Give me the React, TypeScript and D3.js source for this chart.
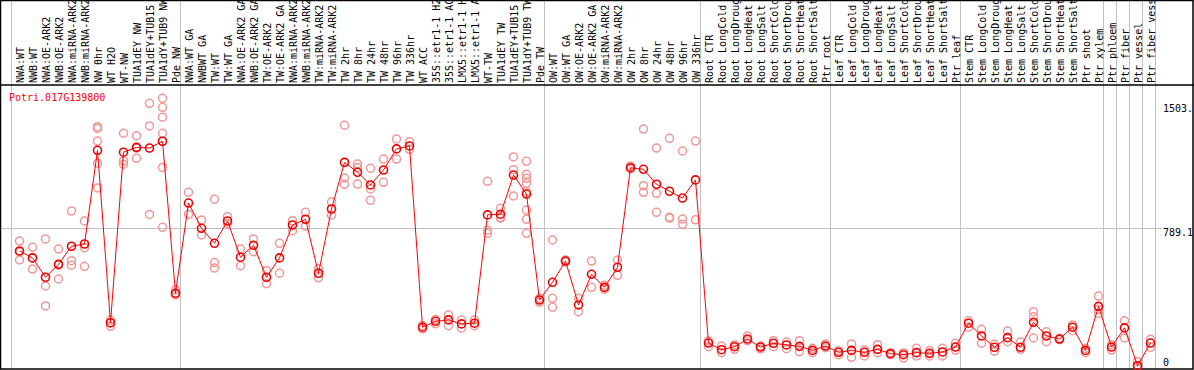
import React from "react";
import * as d3 from "d3";

const geneName = "Potri.017G139800";

const categories = [
  "NWA:WT", "NWB:WT", "NWA:OE-ARK2", "NWB:OE-ARK2", "NWA:miRNA-ARK2", "NWB:miRNA-ARK2",
  "NW 0hr", "WT H2O", "WT-NW", "TUA1dEY NW", "TUA1dEY+TUB15", "TUA1dY+TUB9 NW", "Pde NW",
  "NWA:WT GA", "NWBWT GA", "TW:WT", "TW:WT GA", "NWA:OE-ARK2 GA", "NWB:OE-ARK2 GA",
  "TW:OE-ARK2", "TW:OE-ARK2 GA", "NWA:miRNA-ARK2", "NWB:miRNA-ARK2", "TW:miRNA-ARK2",
  "TW:miRNA-ARK2", "TW 2hr", "TW 8hr", "TW 24hr", "TW 48hr", "TW 96hr", "TW 336hr",
  "WT ACC", "35S::etr1-1 H2", "35S::etr1-1 AC", "LMX5::etr1-1 H", "LMX5::etr1-1 A",
  "WT-TW", "TUA1dEY TW", "TUA1dEY+TUB15", "TUA1dY+TUB9 TW", "Pde TW",
  "OW:WT", "OW:WT GA", "OW:OE-ARK2", "OW:OE-ARK2 GA", "OW:miRNA-ARK2", "OW:miRNA-ARK2",
  "OW 2hr", "OW 8hr", "OW 24hr", "OW 48hr", "OW 96hr", "OW 336hr",
  "Root CTR", "Root LongCold", "Root LongDroug", "Root LongHeat", "Root LongSalt",
  "Root ShortCold", "Root ShortDrou", "Root ShortHeat", "Root ShortSalt", "Ptr root",
  "Leaf CTR", "Leaf LongCold", "Leaf LongDroug", "Leaf LongHeat", "Leaf LongSalt",
  "Leaf ShortCold", "Leaf ShortDrou", "Leaf ShortHeat", "Leaf ShortSalt", "Ptr leaf",
  "Stem CTR", "Stem LongCold", "Stem LongDroug", "Stem LongHeat", "Stem LongSalt",
  "Stem ShortCold", "Stem ShortDrou", "Stem ShortHeat", "Stem ShortSalt", "Ptr shoot",
  "Ptr xylem", "Ptr phloem", "Ptr fiber", "Ptr vessel", "Ptr fiber vess",
];

const meanValues = [
  659, 619, 508, 582, 686, 699, 1237, 247, 1226, 1254,
  1250, 1289, 416, 934, 789, 703, 831, 623, 692, 508,
  619, 808, 841, 531, 900, 1168, 1111, 1038, 1124, 1245,
  1262, 221, 255, 263, 240, 244, 866, 870, 1095, 986,
  377, 479, 601, 349, 525, 450, 565, 1137, 1128, 1042,
  1002, 963, 1067, 130, 92, 109, 153, 107, 129, 119,
  111, 88, 113, 77, 88, 77, 94, 69, 63, 75,
  71, 79, 107, 244, 171, 106, 161, 106, 249, 171,
  153, 221, 88, 341, 107, 217, 0, 130,
];

const replicateValues = [
  [716, 607, 653], [680, 555, 619], [728, 458, 343], [670, 498, 578], [888, 603, 577],
  [831, 678, 571], [1373, 1363, 1290, 1162, 1021], [226, 245, 262], [1335, 1176, 1157],
  [1321, 1191, 1250], [1507, 1377, 869], [1536, 1484, 1427, 1335, 1139, 795], [435, 406],
  [996, 869], [837, 751], [956, 592, 561], [856, 816], [670, 574], [728, 655], [546, 471],
  [703, 531], [833, 775], [881, 801], [557, 505], [940, 864], [1381, 1078, 1042],
  [1158, 1139, 1043], [1134, 1015, 950], [1187, 1053], [1302, 1187], [1286, 1243],
  [230, 212], [266, 241], [291, 230], [262, 215], [262, 230], [1059, 778, 760],
  [904, 852, 847], [1199, 1126, 975], [1174, 1099, 1076, 1048, 999, 894, 841, 760],
  [387, 364], [722, 387, 335], [607, 596], [387, 310], [601, 450], [462, 439], [607, 519],
  [1147, 1130], [1359, 1034, 996], [1250, 990, 881], [1306, 852, 848], [1233, 842, 812],
  [1290, 838], [109, 142], [113, 75], [119, 94], [171, 144], [113, 96], [144, 109],
  [136, 98], [144, 80], [100, 75], [125, 103], [86, 63], [125, 48], [90, 56], [121, 75],
  [75, 63], [75, 44], [100, 56], [86, 56], [100, 56], [129, 90], [258, 221], [209, 129],
  [123, 84], [199, 138], [136, 94], [310, 281, 159], [195, 138], [157, 149], [234, 201],
  [100, 75], [400, 324, 300], [121, 90], [258, 159], [23, 0], [152, 106],
];

const groupStarts = [0, 13, 41, 53, 63, 73, 84, 85, 86, 87, 88];
const tickValues = [1503, 789.1, 0];
const tickLabels = ["1503.", "789.1", "0"];
const gridValues = [789.1];

const W = 1194;
const H = 370;
const FONT = "'DejaVu Sans Mono', 'Liberation Mono', monospace";

export default function App() {
  const x = d3.scaleBand<string>()
    .domain(categories.map((c, i) => String(i)))
    .range([11.5, 11.5 + categories.length * 13])
    .paddingInner(0)
    .paddingOuter(0);
  const cx = (i: number) => (x(String(i)) as number) + 8;
  const lineX = (i: number) =>
    i < categories.length ? (x(String(i)) as number) : (x(String(categories.length - 1)) as number) + x.bandwidth();

  const y = d3.scaleLinear().domain([0, 1503]).range([365.7, 104]);

  const line = d3.line<number>()
    .x((d, i) => cx(i))
    .y((d) => y(d));

  const plotTop = 85;
  const plotBottom = 369;

  return (
    <svg width={W} height={H} style={{ position: "absolute", left: 0, top: 0, background: "#fff" }}>
      <rect x={0} y={0} width={W} height={H} fill="#fff" />
      {/* vertical group lines */}
      {groupStarts.map((g) => (
        <line key={"g" + g} x1={lineX(g)} x2={lineX(g)} y1={0} y2={plotBottom} stroke="#c0c0c0" strokeWidth={1} />
      ))}
      {/* horizontal grid */}
      {gridValues.map((v) => (
        <line key={"h" + v} x1={0} x2={1162} y1={Math.round(y(v)) + 0.5} y2={Math.round(y(v)) + 0.5} stroke="#c0c0c0" strokeWidth={1} />
      ))}
      {/* category labels */}
      {categories.map((c, i) => (
        <text
          key={"c" + i}
          transform={`translate(${cx(i) + 4},83) rotate(-90)`}
          fontFamily={FONT}
          fontSize={10}
          fill="#000"
        >
          {c}
        </text>
      ))}
      {/* header separator */}
      <line x1={0} x2={W} y1={plotTop} y2={plotTop} stroke="#000" strokeWidth={1.5} />
      {/* frame */}
      <rect x={0.5} y={0.5} width={W - 1.5} height={plotBottom - 0.5} fill="none" stroke="#000" strokeWidth={1.5} />
      {/* gene name */}
      <text x={9} y={101} fontFamily={FONT} fontSize={10} fill="#ff0000">{geneName}</text>
      {/* axis labels */}
      {tickValues.map((v, i) => (
        <text key={"t" + i} x={1163} y={Math.min(y(v) + 8, 365.5)} fontFamily={FONT} fontSize={10} fill="#000">
          {tickLabels[i]}
        </text>
      ))}
      {/* replicates */}
      {replicateValues.map((reps, i) =>
        reps.map((v, j) => (
          <circle key={`r${i}-${j}`} cx={cx(i)} cy={y(v)} r={4} fill="none" stroke="#f09898" strokeWidth={1.5} />
        ))
      )}
      {/* mean line */}
      <path d={line(meanValues) || ""} fill="none" stroke="#ff0000" strokeWidth={1} />
      {/* means */}
      {meanValues.map((v, i) => (
        <circle key={"m" + i} cx={cx(i)} cy={y(v)} r={4} fill="none" stroke="#ee0000" strokeWidth={1.6} />
      ))}
    </svg>
  );
}
